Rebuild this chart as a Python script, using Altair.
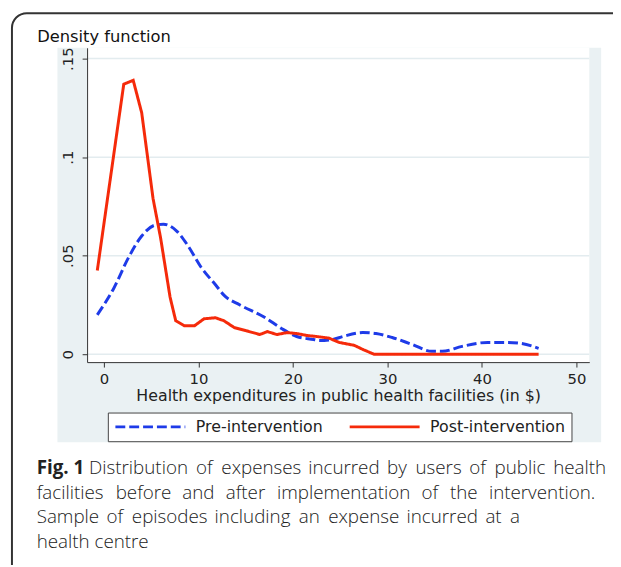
import altair as alt
import pandas as pd

# ---- data ----
pre_x = [-0.7, 1.05, 2.6, 4.0, 5.4, 6.3, 7.7, 8.9, 10.3, 11.85, 12.7, 14.4, 16.9, 19.0, 20.4,
         22.2, 22.8, 24.2, 25.3, 27.4, 28.8, 30.5, 32.6, 34.7, 35.8, 37.9, 40.6, 42.4, 44.1, 46.0]
pre_y = [0.020, 0.0335, 0.049, 0.060, 0.0655, 0.066, 0.0625, 0.055, 0.044, 0.035, 0.030, 0.025, 0.019, 0.0125, 0.009,
         0.0075, 0.007, 0.0075, 0.009, 0.011, 0.0105, 0.0085, 0.005, 0.0015, 0.0015, 0.004, 0.006, 0.006, 0.0055, 0.003]

post_x = [-0.7, 2.1, 3.1, 4.0, 5.2, 6.0, 7.0, 7.6, 8.5, 9.6, 10.6, 11.8, 12.7, 13.8, 15.0, 16.5, 17.3, 18.3,
          19.4, 20.4, 21.5, 22.5, 23.8, 24.9, 26.5, 27.5, 28.6, 35.0, 40.0, 46.0]
post_y = [0.0425, 0.137, 0.139, 0.1225, 0.079, 0.059, 0.029, 0.017, 0.0145, 0.0145, 0.018, 0.0185, 0.017, 0.0135,
          0.012, 0.010, 0.0115, 0.010, 0.011, 0.0105, 0.0095, 0.009, 0.0082, 0.006, 0.0045, 0.0022, 0.0, 0.0, 0.0, 0.0]

series_names = ["Pre-intervention", "Post-intervention"]
y_ticks = [0, 0.05, 0.1, 0.15]
x_ticks = [0, 10, 20, 30, 40, 50]

caption_bold = "Fig. 1"
caption_lines = [
    "Distribution of expenses incurred by users of public health",
    "facilities before and after implementation of the intervention.",
    "Sample of episodes including an expense incurred at a",
    "health centre",
]

# ---- layout ----
W, H = 508, 318
FONT = "DejaVu Sans"
CAP_FONT = "Open Sans"
CAP_SIZE = 19

# approximate Open Sans advance widths (units per 2048 em) used to justify caption lines
_adv = {" ": 532, ".": 545, "a": 1139, "b": 1255, "c": 975, "d": 1255, "e": 1149, "f": 694, "g": 1122,
        "h": 1257, "i": 518, "l": 518, "m": 1905, "n": 1257, "o": 1237, "p": 1255, "r": 836, "s": 977,
        "t": 723, "u": 1257, "v": 1026, "x": 1073, "y": 1032, "D": 1479, "S": 1075}


def text_w(s):
    # light weight renders ~5% narrower than the regular-weight advance table
    return sum(_adv.get(c, 1100) for c in s) / 2048 * CAP_SIZE * 0.951


def justify(line, x0, x1, y):
    words = line.split(" ")
    widths = [text_w(w) for w in words]
    gap = (x1 - x0 - sum(widths)) / (len(words) - 1)
    left, x = [], x0
    for w, wd in zip(words[:-1], widths[:-1]):
        left.append({"t": w, "px": x, "py": y})
        x += wd + gap
    right = [{"t": words[-1], "px": x1, "py": y}]
    return left, right

# caption layout (pixels relative to plot origin at page (88, 45))
base_y = 431
L1, R1 = justify(caption_lines[0], 2, 525, base_y)
L2, R2 = justify(caption_lines[1], -51, 514, base_y + 25)
L3, R3 = justify(caption_lines[2], -51, 438, base_y + 50)
left_rows = L1 + L2 + L3 + [{"t": caption_lines[3], "px": -51, "py": base_y + 75}]
right_rows = R1 + R2 + R3

df = pd.concat([
    pd.DataFrame({"x": pre_x, "y": pre_y, "series": series_names[0]}),
    pd.DataFrame({"x": post_x, "y": post_y, "series": series_names[1]}),
])

xscale = alt.Scale(domain=[-1.78, 51.36], nice=False, zero=False)
yscale = alt.Scale(domain=[-0.004, 0.1555], nice=False, zero=False)

one = alt.Data(values=[{"a": 1}])

border = alt.Chart(one).mark_rect(
    fill="white", stroke="#333333", strokeWidth=2, cornerRadius=15
).encode(x=alt.value(-76), x2=alt.value(W + 60), y=alt.value(-35), y2=alt.value(H + 260))

gray = alt.Chart(one).mark_rect(fill="#EAF1F3").encode(
    x=alt.value(-30), x2=alt.value(W + 12), y=alt.value(0), y2=alt.value(H + 81)
)

white = alt.Chart(one).mark_rect(fill="white").encode(
    x=alt.value(0), x2=alt.value(W), y=alt.value(0), y2=alt.value(H)
)

grid = alt.Chart(pd.DataFrame({"t": y_ticks})).mark_rule(
    color="#E3ECEF", strokeWidth=1.5
).encode(y=alt.Y("t:Q", scale=yscale), x=alt.value(0), x2=alt.value(W))

color_scale = alt.Scale(domain=series_names, range=["#1E3BE8", "#F52A0A"])
dash_scale = alt.Scale(domain=series_names, range=[[10, 4], [1, 0]])

x_enc = alt.X(
    "x:Q", scale=xscale,
    axis=alt.Axis(
        values=x_ticks, title="Health expenditures in public health facilities (in $)",
        grid=False, domainColor="#333333", tickColor="#333333", tickSize=5,
        labelFontSize=15, labelFont=FONT, labelColor="#222222", labelPadding=5,
        titleFont=FONT, titleFontSize=16, titleFontWeight="normal", titleColor="#222222",
        titleBaseline="alphabetic", titleY=39, zindex=1,
    ),
)
y_enc = alt.Y(
    "y:Q", scale=yscale,
    axis=alt.Axis(
        values=y_ticks, grid=False, labelAngle=270,
        labelExpr="datum.value == 0 ? '0' : replace(toString(datum.value), '0.', '.')",
        domainColor="#333333", tickColor="#333333", tickSize=5,
        labelFontSize=15, labelFont=FONT, labelColor="#222222", labelPadding=7,
        title="Density function", titleAngle=0, titleAlign="left", titleBaseline="alphabetic",
        titleX=-51, titleY=-6, titleFont=FONT, titleFontSize=16.5, titleFontWeight="normal",
        titleColor="#111111", zindex=1,
    ),
)
legend = alt.Legend(
    title=None, orient="none", legendX=21, legendY=369, direction="horizontal",
    strokeColor="#444444", fillColor="white", padding=6,
    symbolType="stroke", symbolSize=5000, symbolStrokeWidth=3, clipHeight=17,
    labelFont=FONT, labelFontSize=16, labelColor="#222222",
    columnPadding=25, labelOffset=9,
)

base = alt.Chart(df).encode(
    x=x_enc, y=y_enc,
    color=alt.Color("series:N", scale=color_scale, legend=legend, sort=series_names),
    strokeDash=alt.StrokeDash("series:N", scale=dash_scale, legend=legend, sort=series_names),
)
pre_line = base.transform_filter(alt.datum.series == series_names[0]).mark_line(
    strokeWidth=3, interpolate="monotone")
post_line = base.transform_filter(alt.datum.series == series_names[1]).mark_line(
    strokeWidth=3, interpolate="linear", strokeJoin="miter")

fig_label = alt.Chart(one).mark_text(
    text=caption_bold, font=CAP_FONT, fontSize=CAP_SIZE, fontWeight="bold", align="left",
    baseline="alphabetic", color="#222222"
).encode(x=alt.value(-51), y=alt.value(base_y))

cap_left = alt.Chart(pd.DataFrame(left_rows)).mark_text(
    font=CAP_FONT, fontSize=CAP_SIZE, fontWeight=300, align="left",
    baseline="alphabetic", color="#222222"
).encode(x=alt.X("px:Q", scale=None), y=alt.Y("py:Q", scale=None), text="t:N")

cap_right = alt.Chart(pd.DataFrame(right_rows)).mark_text(
    font=CAP_FONT, fontSize=CAP_SIZE, fontWeight=300, align="right",
    baseline="alphabetic", color="#222222"
).encode(x=alt.X("px:Q", scale=None), y=alt.Y("py:Q", scale=None), text="t:N")

chart = alt.layer(border, gray, white, grid, pre_line, post_line, fig_label, cap_left, cap_right).properties(
    width=W, height=H,
    autosize=alt.AutoSizeParams(type="none"),
    padding={"left": 80, "top": 37, "right": 24, "bottom": 202},
).configure_view(stroke=None).configure(background="white")

chart.save("out.html", embed_options={"renderer": "svg", "actions": False})
